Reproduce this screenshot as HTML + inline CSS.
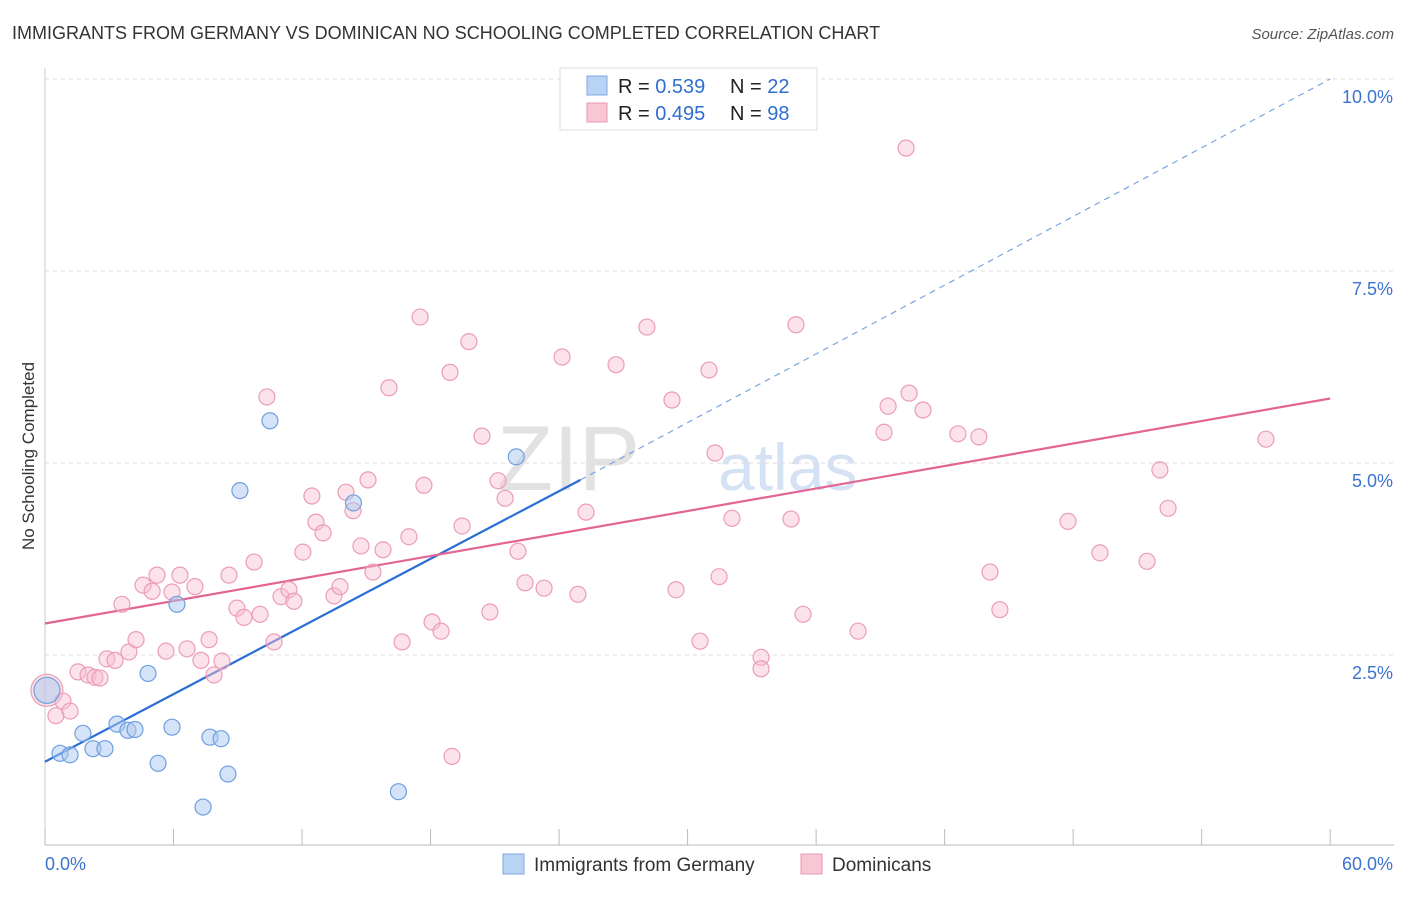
<!DOCTYPE html>
<html><head><meta charset="utf-8"><style>
body{margin:0;background:#fff;font-family:"Liberation Sans",sans-serif;}
svg text{font-family:"Liberation Sans",sans-serif;}
</style></head><body>
<svg id="chart" width="1406" height="892">
<text x="12" y="39" font-size="18" fill="#333">IMMIGRANTS FROM GERMANY VS DOMINICAN NO SCHOOLING COMPLETED CORRELATION CHART</text>
<text x="1394" y="39" font-size="15" fill="#555" font-style="italic" text-anchor="end">Source: ZipAtlas.com</text>
<text x="34" y="456" font-size="17" fill="#333" transform="rotate(-90 34 456)" text-anchor="middle">No Schooling Completed</text>
<text x="640" y="490" font-size="92" fill="#e2e2e2" font-family="Liberation Serif" text-anchor="end">ZIP</text>
<text x="718" y="490" font-size="66" fill="#d4e2f4">atlas</text>
<g id="grid"></g><g id="axes"></g><g id="lines"></g><g id="pts"></g>
<g>
<rect x="560" y="68" width="257" height="62" fill="#fff" stroke="#ddd"/>
<rect x="587" y="76" width="20" height="19" fill="#b8d3f3" stroke="#7ea9e0"/>
<rect x="587" y="103" width="20" height="19" fill="#f8c6d4" stroke="#e99ab3"/>
<text x="618" y="93" font-size="20" fill="#222">R = <tspan fill="#2f6fd1">0.539</tspan></text>
<text x="730" y="93" font-size="20" fill="#222">N = <tspan fill="#2f6fd1">22</tspan></text>
<text x="618" y="120" font-size="20" fill="#222">R = <tspan fill="#2f6fd1">0.495</tspan></text>
<text x="730" y="120" font-size="20" fill="#222">N = <tspan fill="#2f6fd1">98</tspan></text>
</g>
<g>
<rect x="503" y="854" width="21" height="20" fill="#b8d3f3" stroke="#7ea9e0"/>
<text x="534" y="871" font-size="19" fill="#333">Immigrants from Germany</text>
<rect x="801" y="854" width="21" height="20" fill="#f8c6d4" stroke="#e99ab3"/>
<text x="832" y="871" font-size="19" fill="#333">Dominicans</text>
</g>
</svg>
<script>
const yTicks=[2.5,5,7.5,10];
const yTickLabels=["2.5%","5.0%","7.5%","10.0%"];
const xTicks=[0,6,12,18,24,30,36,42,48,54,60];
const germanyX=[0.09,0.70,1.17,1.77,2.24,2.80,3.36,3.87,4.20,4.81,5.28,5.93,6.16,7.38,7.70,8.22,8.54,9.10,10.5,14.4,16.5,22.0];
const germanyY=[2.04,1.22,1.20,1.48,1.28,1.28,1.60,1.52,1.53,2.26,1.09,1.56,3.16,0.52,1.43,1.41,0.95,4.64,5.55,4.48,0.72,5.08];
const domX=[0.09,0.51,0.84,1.17,1.54,2.01,2.33,2.57,2.89,3.27,3.59,3.92,4.25,4.58,5.00,5.23,5.65,5.93,6.30,6.63,7.00,7.28,7.66,7.89,8.26,8.59,8.96,9.29,9.76,10.04,10.36,10.69,11.02,11.39,11.62,12.04,12.46,12.65,12.98,13.49,13.77,14.05,14.38,14.75,15.08,15.31,15.78,16.06,16.67,16.99,17.51,17.69,18.07,18.49,18.91,19.00,19.47,19.79,20.40,20.77,21.15,21.48,22.08,22.41,23.30,24.14,24.88,25.26,26.66,28.10,29.27,29.46,30.58,31.00,31.28,31.47,32.07,33.43,33.43,34.83,35.06,35.39,37.96,39.17,39.36,40.20,40.34,40.99,42.62,43.60,44.12,44.58,47.76,49.25,51.45,52.05,52.43,57.00];
const domY=[2.04,1.71,1.90,1.77,2.28,2.24,2.21,2.20,2.45,2.43,3.16,2.54,2.70,3.41,3.33,3.54,2.55,3.32,3.54,2.58,3.39,2.43,2.70,2.24,2.42,3.54,3.11,2.99,3.71,3.03,5.86,2.67,3.26,3.35,3.20,3.84,4.57,4.23,4.09,3.27,3.39,4.62,4.38,3.92,4.78,3.58,3.87,5.98,2.67,4.04,6.90,4.71,2.93,2.81,6.18,1.18,4.18,6.58,5.35,3.06,4.77,4.54,3.85,3.44,3.37,6.38,3.29,4.36,6.28,6.77,5.82,3.35,2.68,6.21,5.13,3.52,4.28,2.47,2.32,4.27,6.80,3.03,2.81,5.40,5.74,9.10,5.91,5.69,5.38,5.34,3.58,3.09,4.24,3.83,3.72,4.91,4.41,5.31];
const germanyLine=[[0,1.11],[25,4.78]];
const germanyDash=[[25,4.78],[60,10.0]];
const domLine=[[0,2.91],[60,5.84]];
const X=v=>45+v*21.42, Y=v=>847-v*76.8;
const NS='http://www.w3.org/2000/svg';
function mk(t,a,p){const e=document.createElementNS(NS,t);for(const k in a)e.setAttribute(k,a[k]);p.appendChild(e);return e;}
const grid=document.getElementById('grid'),axes=document.getElementById('axes'),lines=document.getElementById('lines'),pts=document.getElementById('pts');
yTicks.forEach((v,i)=>{
 const g=mk('line',{x1:45,x2:1394,y1:Y(v),y2:Y(v),stroke:'#ddd','stroke-dasharray':'4 4'},grid);
 
 
 const t=mk('text',{x:1393,y:Y(v)+24,'font-size':18,fill:'#3b73cf','text-anchor':'end'},axes);t.textContent=yTickLabels[i];
 
 
});
const ax=mk('line',{x1:45,x2:1394,y1:845,y2:845,stroke:'#bbb'},axes);


const ay=mk('line',{x1:45,x2:45,y1:68,y2:845,stroke:'#ccc'},axes);


xTicks.forEach(v=>{const l=mk('line',{x1:X(v),x2:X(v),y1:829,y2:845,stroke:'#bbb'},axes);
 
 });
const xl0=mk('text',{x:45,y:870,'font-size':18,fill:'#3b73cf'},axes);xl0.textContent='0.0%';


const xl1=mk('text',{x:1393,y:870,'font-size':18,fill:'#3b73cf','text-anchor':'end'},axes);xl1.textContent='60.0%';


function dot(x,y,fill,stroke,r){const c=mk('circle',{cx:X(x),cy:Y(y),r:r,fill:fill,stroke:stroke,'stroke-width':1.2},pts);return c;}
domX.forEach((x,i)=>{const c=dot(x,domY[i],'rgba(248,190,208,0.45)','#ec9db6',i==0?16:8);
 
 });
germanyX.forEach((x,i)=>{const c=dot(x,germanyY[i],'rgba(170,200,240,0.5)','#6e9fe0',i==0?13:8);
 
 });
const l1=mk('line',{x1:X(germanyLine[0][0]),y1:Y(germanyLine[0][1]),x2:X(germanyLine[1][0]),y2:Y(germanyLine[1][1]),stroke:'#2a6dd6','stroke-width':2.2},lines);


const l2=mk('line',{x1:X(germanyDash[0][0]),y1:Y(germanyDash[0][1]),x2:X(germanyDash[1][0]),y2:Y(germanyDash[1][1]),stroke:'#7aa4e3','stroke-width':1.2,'stroke-dasharray':'6 5'},lines);


const l3=mk('line',{x1:X(domLine[0][0]),y1:Y(domLine[0][1]),x2:X(domLine[1][0]),y2:Y(domLine[1][1]),stroke:'#e36592','stroke-width':2.2},lines);


</script>
</body></html>
